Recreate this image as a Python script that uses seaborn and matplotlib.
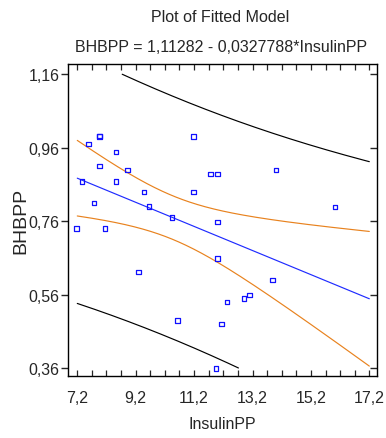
import numpy as np
import pandas as pd
import matplotlib
matplotlib.use("Agg")
import matplotlib.pyplot as plt
import seaborn as sns

# ---- data ----
insulin_pp = [7.963, 7.963, 7.587, 8.521, 7.963, 8.920, 7.371, 8.521, 9.478, 7.769,
              9.660, 10.446, 7.177, 8.145, 11.186, 11.186, 11.767, 11.995, 14.011, 16.027,
              11.995, 11.995, 9.296, 13.886, 13.100, 12.918, 12.337, 10.628, 12.143, 11.949]
bhbpp = [0.990, 0.991, 0.9695, 0.9487, 0.9097, 0.8988, 0.868, 0.868, 0.839, 0.809,
         0.800, 0.770, 0.740, 0.740, 0.990, 0.839, 0.889, 0.889, 0.899, 0.799,
         0.758, 0.659, 0.621, 0.600, 0.559, 0.550, 0.540, 0.490, 0.481, 0.359]
INTERCEPT = 1.11282
SLOPE = -0.0327788
T_CRIT = 2.0484  # 95%, df = 28
x_ticks = [7.2, 9.2, 11.2, 13.2, 15.2, 17.2]
y_ticks = [0.36, 0.56, 0.76, 0.96, 1.16]
title_lines = ["Plot of Fitted Model", "BHBPP = 1,11282 - 0,0327788*InsulinPP"]

sns.set_style("white")
plt.rcParams['font.family'] = ['Liberation Sans', 'DejaVu Sans']

df = pd.DataFrame({"InsulinPP": insulin_pp, "BHBPP": bhbpp})
x = np.asarray(insulin_pp); y = np.asarray(bhbpp)
n = len(x)
xbar = x.mean()
sxx = ((x - xbar) ** 2).sum()
resid = y - (INTERCEPT + SLOPE * x)
s = np.sqrt((resid ** 2).sum() / (n - 2))

xg = np.linspace(x_ticks[0], x_ticks[-1], 300)
fit = INTERCEPT + SLOPE * xg
ci = T_CRIT * s * np.sqrt(1 / n + (xg - xbar) ** 2 / sxx)
pi = T_CRIT * s * np.sqrt(1 + 1 / n + (xg - xbar) ** 2 / sxx)

def clip(v):
    v = v.copy()
    v[(v > y_ticks[-1] + 1e-9) | (v < y_ticks[0] - 1e-9)] = np.nan
    return v

fig = plt.figure(figsize=(3.86, 4.39), dpi=100)
ax = fig.add_axes([68 / 386, 1 - 376.7 / 439, (377 - 68) / 386, (376.7 - 65) / 439])

lw = 0.85
sns.lineplot(x=xg, y=clip(fit + pi), ax=ax, color="black", lw=lw, estimator=None)
sns.lineplot(x=xg, y=clip(fit - pi), ax=ax, color="black", lw=lw, estimator=None)
sns.lineplot(x=xg, y=clip(fit + ci), ax=ax, color="#E8821E", lw=lw, estimator=None)
sns.lineplot(x=xg, y=clip(fit - ci), ax=ax, color="#E8821E", lw=lw, estimator=None)
sns.lineplot(x=xg, y=fit, ax=ax, color="#1F2BFF", lw=lw, estimator=None)
sns.scatterplot(data=df, x="InsulinPP", y="BHBPP", ax=ax, marker="s", s=10,
                facecolor="none", edgecolor="#1010FF", linewidth=0.9, zorder=5)

ax.set_xlim(7.2 - 9.3 / 29.27, 17.2 + 7.7 / 29.27)
ax.set_ylim(0.36 - 7.4 / 367.5, 1.16 + 10 / 367.5)
ax.set_xticks(x_ticks)
ax.set_xticklabels([f"{v:.1f}".replace(".", ",") for v in x_ticks])
ax.set_xticks(np.arange(7.2, 17.21, 0.5), minor=True)
ax.set_yticks(y_ticks)
ax.set_yticklabels([f"{v:.2f}".replace(".", ",") for v in y_ticks])

for sp in ax.spines.values():
    sp.set_color("black"); sp.set_linewidth(1.0)

ax.tick_params(axis="y", which="major", left=True, right=True, direction="out",
               length=5, width=1, labelsize=11.5, pad=1)
ax.tick_params(axis="x", which="both", bottom=True, top=True, direction="in",
               length=4, width=0.9, labelsize=11.5, pad=10)
# right ticks inward
for t in ax.yaxis.get_major_ticks():
    t.tick2line.set_marker(matplotlib.lines.TICKLEFT)
    t.tick2line.set_markersize(5)

ax.set_xlabel("InsulinPP", fontsize=11.5, labelpad=8)
ax.set_ylabel("BHBPP", fontsize=14)
ax.yaxis.set_label_coords((29 - 68) / 309, 0.5)

fig.text(0.57, 1 - 17 / 439, title_lines[0], ha="center", va="center", fontsize=11.5)
fig.text(0.573, 1 - 47 / 439, title_lines[1], ha="center", va="center", fontsize=11.5)

fig.savefig("out.png", dpi=100)
